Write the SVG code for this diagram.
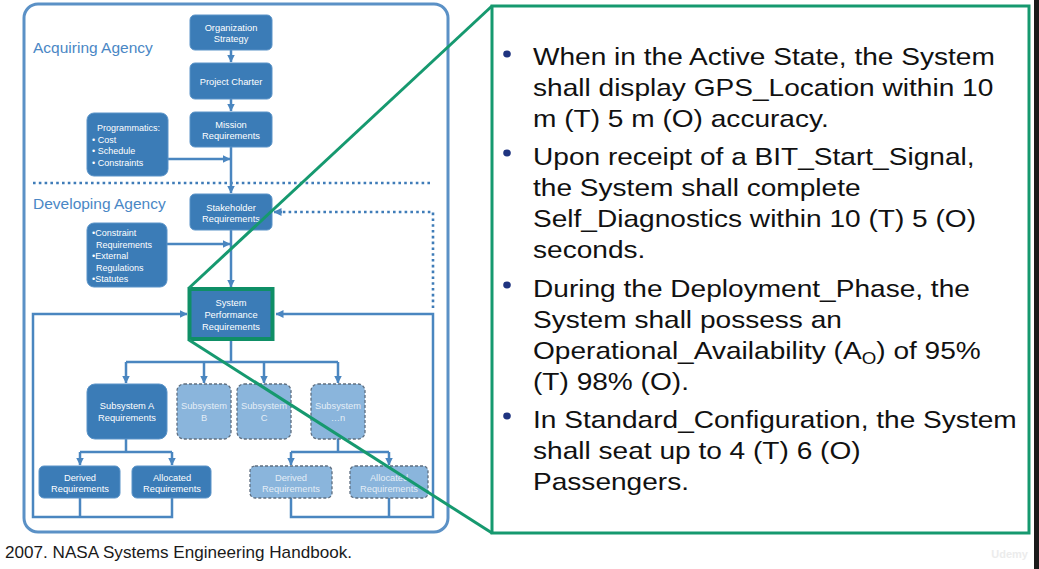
<svg xmlns="http://www.w3.org/2000/svg" width="1039" height="569" viewBox="0 0 1039 569">
<defs>
<style>
.box{fill:#3b7cb7;stroke:#5a93c8;stroke-width:1}
.dbox{fill:#8ab5dc;stroke:#5f6f80;stroke-width:1.3;stroke-dasharray:3 2}
.lbl{font-family:"Liberation Sans",Arial,sans-serif;font-size:9.3px;fill:#ffffff;text-anchor:middle}
.dlbl{font-family:"Liberation Sans",Arial,sans-serif;font-size:9.3px;fill:#e4edf6;text-anchor:middle}
.ltxt{font-family:"Liberation Sans",Arial,sans-serif;font-size:9px;fill:#ffffff}
.conn{fill:none;stroke:#4a86c0;stroke-width:2.5}
.dot{fill:none;stroke:#3f7cb8;stroke-width:2.6;stroke-dasharray:2.6 3.2}
.agency{font-family:"Liberation Sans",Arial,sans-serif;font-size:15.5px;fill:#4a87c5}
.req{font-family:"Liberation Sans",Arial,sans-serif;font-size:24px;fill:#111111}
.zoom{fill:none;stroke:#16996f;stroke-width:3}
</style>
<marker id="ah" viewBox="0 0 8 8" refX="7.5" refY="4" markerWidth="8" markerHeight="8" markerUnits="userSpaceOnUse" orient="auto">
<path d="M0,0 L8,4 L0,8 z" fill="#4a86c0"/>
</marker>
</defs>
<rect width="1039" height="569" fill="#ffffff"/>
<rect x="1034" y="0" width="5" height="569" fill="#1a1a1a"/>

<!-- outer frame -->
<rect id="frame" x="24" y="4" width="424" height="528" rx="14" fill="none" stroke="#5b91c6" stroke-width="3"/>

<text class="agency" x="33" y="53">Acquiring Agency</text>
<text class="agency" x="33" y="209">Developing Agency</text>

<!-- connectors -->
<g id="connectors">
<path class="dot" d="M33,183 H433"/>
<path class="conn" d="M231,50 V62" marker-end="url(#ah)"/>
<path class="conn" d="M231,99 V111" marker-end="url(#ah)"/>
<path class="conn" d="M231,147 V193" marker-end="url(#ah)"/>
<path class="conn" d="M168,159 H230" marker-end="url(#ah)"/>
<path class="conn" d="M231,230 V287" marker-end="url(#ah)"/>
<path class="conn" d="M167,244 H230" marker-end="url(#ah)"/>
<path class="conn" d="M172,498 V517 H33 V314 H187" marker-end="url(#ah)"/>
<path class="conn" d="M80,498 V517"/>
<path class="conn" d="M291,498 V517 H433 V314 H276" marker-end="url(#ah)"/>
<path class="conn" d="M389,498 V517"/>
<path class="dot" d="M433,308 V212 H280"/>
<path class="conn" d="M282,212 H274" marker-end="url(#ah)"/>
<path class="conn" d="M231,341 V362 M126,362 H338"/>
<path class="conn" d="M126,362 V383" marker-end="url(#ah)"/>
<path class="conn" d="M204,362 V383" marker-end="url(#ah)"/>
<path class="conn" d="M264,362 V383" marker-end="url(#ah)"/>
<path class="conn" d="M338,362 V383" marker-end="url(#ah)"/>
<path class="conn" d="M126,439 V452 M80,452 H172"/>
<path class="conn" d="M80,452 V465" marker-end="url(#ah)"/>
<path class="conn" d="M172,452 V465" marker-end="url(#ah)"/>
<path class="conn" d="M338,439 V452 M291,452 H389"/>
<path class="conn" d="M291,452 V465" marker-end="url(#ah)"/>
<path class="conn" d="M389,452 V465" marker-end="url(#ah)"/>
</g>

<g id="org-strategy">
<rect class="box" x="190" y="15" width="82" height="35" rx="5"/>
<text class="lbl" x="231" y="30.5">Organization</text>
<text class="lbl" x="231" y="42">Strategy</text>
</g>
<g id="project-charter">
<rect class="box" x="190" y="63" width="82" height="36" rx="5"/>
<text class="lbl" x="231" y="84.5">Project Charter</text>
</g>
<g id="mission-req">
<rect class="box" x="190" y="112" width="82" height="35" rx="5"/>
<text class="lbl" x="231" y="127.5">Mission</text>
<text class="lbl" x="231" y="139">Requirements</text>
</g>
<g id="programmatics">
<rect class="box" x="87" y="113" width="81" height="63" rx="7"/>
<text class="ltxt" x="97" y="131">Programmatics:</text>
<text class="ltxt" x="92" y="142.5">•  Cost</text>
<text class="ltxt" x="92" y="154">•  Schedule</text>
<text class="ltxt" x="92" y="166">•  Constraints</text>
</g>
<g id="stakeholder-req">
<rect class="box" x="190" y="194" width="82" height="36" rx="5"/>
<text class="lbl" x="231" y="210.5">Stakeholder</text>
<text class="lbl" x="231" y="222">Requirements</text>
</g>
<g id="constraints">
<rect class="box" x="87" y="223" width="80" height="64" rx="7"/>
<text class="ltxt" x="92" y="236">•Constraint</text>
<text class="ltxt" x="96" y="247.5">Requirements</text>
<text class="ltxt" x="92" y="259">•External</text>
<text class="ltxt" x="96" y="271">Regulations</text>
<text class="ltxt" x="92" y="282">•Statutes</text>
</g>
<g id="system-perf-req">
<rect x="189.5" y="289" width="83" height="50" fill="#3b7cb7" stroke="#0f8f66" stroke-width="4"/>
<text class="lbl" x="231" y="306">System</text>
<text class="lbl" x="231" y="318">Performance</text>
<text class="lbl" x="231" y="329.5">Requirements</text>
</g>
<g id="subsystem-a">
<rect class="box" x="87" y="384" width="80" height="55" rx="8"/>
<text class="lbl" x="127" y="409">Subsystem A</text>
<text class="lbl" x="127" y="420.5">Requirements</text>
</g>
<g id="subsystem-b">
<rect class="dbox" x="177" y="384" width="54" height="55" rx="7"/>
<text class="dlbl" x="204" y="409">Subsystem</text>
<text class="dlbl" x="204" y="420.5">B</text>
</g>
<g id="subsystem-c">
<rect class="dbox" x="237" y="384" width="54" height="55" rx="7"/>
<text class="dlbl" x="264" y="409">Subsystem</text>
<text class="dlbl" x="264" y="420.5">C</text>
</g>
<g id="subsystem-n">
<rect class="dbox" x="311" y="384" width="54" height="55" rx="7"/>
<text class="dlbl" x="338" y="409">Subsystem</text>
<text class="dlbl" x="338" y="420.5">…n</text>
</g>
<g id="derived-a">
<rect class="box" x="39" y="466" width="81" height="32" rx="5"/>
<text class="lbl" x="80" y="480.5">Derived</text>
<text class="lbl" x="80" y="492">Requirements</text>
</g>
<g id="allocated-a">
<rect class="box" x="132" y="466" width="79" height="32" rx="5"/>
<text class="lbl" x="172" y="480.5">Allocated</text>
<text class="lbl" x="172" y="492">Requirements</text>
</g>
<g id="derived-n">
<rect class="dbox" x="250" y="466" width="82" height="32" rx="5"/>
<text class="dlbl" x="291" y="480.5">Derived</text>
<text class="dlbl" x="291" y="492">Requirements</text>
</g>
<g id="allocated-n">
<rect class="dbox" x="350" y="466" width="78" height="32" rx="5"/>
<text class="dlbl" x="389" y="480.5">Allocated</text>
<text class="dlbl" x="389" y="492">Requirements</text>
</g>

<!-- zoom callout -->
<g id="callout">
<line class="zoom" x1="492" y1="6" x2="189" y2="288"/>
<line class="zoom" x1="492" y1="533" x2="189" y2="340"/>
<rect x="492" y="6" width="537" height="527" fill="#ffffff" stroke="#16996f" stroke-width="3"/>
<g fill="#1f3480">
<ellipse cx="507" cy="54" rx="3.8" ry="3.4"/>
<ellipse cx="507" cy="153" rx="3.8" ry="3.4"/>
<ellipse cx="507" cy="285" rx="3.8" ry="3.4"/>
<ellipse cx="507" cy="416" rx="3.8" ry="3.4"/>
</g>
<g transform="translate(533 0) scale(1.17 1)">
<text class="req" x="0" y="65">When in the Active State, the System</text>
<text class="req" x="0" y="96">shall display GPS_Location within 10</text>
<text class="req" x="0" y="127">m (T) 5 m (O) accuracy.</text>
<text class="req" x="0" y="165">Upon receipt of a BIT_Start_Signal,</text>
<text class="req" x="0" y="196">the System shall complete</text>
<text class="req" x="0" y="227">Self_Diagnostics within 10 (T) 5 (O)</text>
<text class="req" x="0" y="258">seconds.</text>
<text class="req" x="0" y="297">During the Deployment_Phase, the</text>
<text class="req" x="0" y="328">System shall possess an</text>
<text class="req" x="0" y="359">Operational_Availability (A<tspan font-size="16" dy="5">O</tspan><tspan dy="-5">) of 95%</tspan></text>
<text class="req" x="0" y="390">(T) 98% (O).</text>
<text class="req" x="0" y="428">In Standard_Configuration, the System</text>
<text class="req" x="0" y="459">shall seat up to 4 (T) 6 (O)</text>
<text class="req" x="0" y="490">Passengers.</text>
</g>
</g>

<text x="5" y="558" font-family="'Liberation Sans',Arial,sans-serif" font-size="17" fill="#1a1a1a" textLength="347" lengthAdjust="spacingAndGlyphs">2007. NASA Systems Engineering Handbook.</text>
<text x="1028" y="558" font-family="'Liberation Sans',Arial,sans-serif" font-size="11" font-weight="bold" fill="#ececec" text-anchor="end">Udemy</text>
</svg>
